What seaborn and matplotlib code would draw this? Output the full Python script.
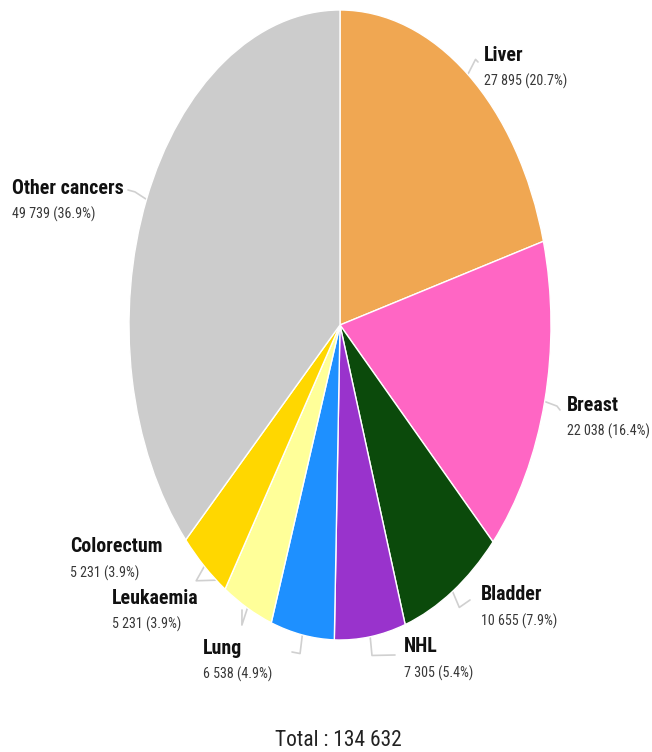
import numpy as np
import pandas as pd
import matplotlib
matplotlib.use("Agg")
import matplotlib.pyplot as plt
from matplotlib import font_manager
import seaborn as sns

categories = ["Liver", "Breast", "Bladder", "NHL", "Lung", "Leukaemia", "Colorectum", "Other cancers"]
values = [27895, 22038, 10655, 7305, 6538, 5231, 5231, 49739]
percent_labels = ["20.7%", "16.4%", "7.9%", "5.4%", "4.9%", "3.9%", "3.9%", "36.9%"]
colors = ["#F0A752", "#FF66C4", "#0B4A0B", "#9933CC", "#1E90FF", "#FFFF99", "#FFD700", "#CCCCCC"]
total_label = "Total : 134 632"

df = pd.DataFrame({"cancer": categories, "count": values, "pct": percent_labels, "color": colors})

sns.set_theme(style="white")
names = {f.name for f in font_manager.fontManager.ttflist}
candidates = ["Roboto Condensed", "Liberation Sans Narrow", "Arimo Narrow", "Archivo Narrow",
              "PT Sans Narrow", "Fira Sans Condensed", "IBM Plex Sans Condensed", "Asap Condensed"]
fam = next((c for c in candidates if c in names), None)
if fam is None:
    fam = "Roboto"
    scale = 0.86
else:
    scale = 1.0
plt.rcParams["font.family"] = [fam, "DejaVu Sans"]

W, H = 652, 752
fig = plt.figure(figsize=(W / 100, H / 100), dpi=100)
ax = fig.add_axes([0, 0, 1, 1])

cx, cy, rx, ry = 340, 325, 211, 315
ax.pie(df["count"], colors=df["color"], startangle=90, counterclock=False,
       radius=1, center=(0, 0),
       wedgeprops=dict(edgecolor="white", linewidth=1))
wedges = [p for p in ax.patches]
ax.set_xlim(-cx / rx, (W - cx) / rx)
ax.set_ylim(-(H - cy) / ry, cy / ry)
ax.set_aspect("auto")
ax.axis("off")

def px(x, y):
    return (x - cx) / rx, (cy - y) / ry

# label anchor positions in pixels (layout only)
label_pos = [(484, 55), (567, 405), (481, 595), (404, 647), (203, 648), (112, 598), (70, 547), (12, 188)]
# leader line end points in pixels
leader_end = [(478, 62), (560, 410), (470, 600), (395, 655), (292, 652), (242, 610), (222, 580), (128, 190)]

for w, (lx, ly), (ex, ey), name, v, p in zip(wedges, label_pos, leader_end,
                                              df["cancer"], df["count"], df["pct"]):
    mid = np.deg2rad((w.theta1 + w.theta2) / 2)
    x0, y0 = np.cos(mid) * 1.0, np.sin(mid) * 1.0
    x1, y1 = np.cos(mid) * 1.06, np.sin(mid) * 1.06
    xe, ye = px(ex, ey)
    ax.plot([x0, x1, xe], [y0, y1, ye], color="#d0d0d0", lw=1.2, solid_capstyle="round", zorder=0)
    tx, ty = px(lx, ly)
    ax.text(tx, ty, name, fontsize=14.3 * scale, fontweight="bold", color="#111111", va="center", ha="left")
    vx, vy = px(lx, ly + 26)
    vs = f"{v:,}".replace(",", " ") + f" ({p})"
    ax.text(vx, vy, vs, fontsize=10.1 * scale, color="#383838", va="center", ha="left")

tx, ty = px(338, 740)
ax.text(tx, ty, total_label, fontsize=15.5 * scale, color="#222222", ha="center", va="center")

fig.savefig("out.png", dpi=100, facecolor="white")
